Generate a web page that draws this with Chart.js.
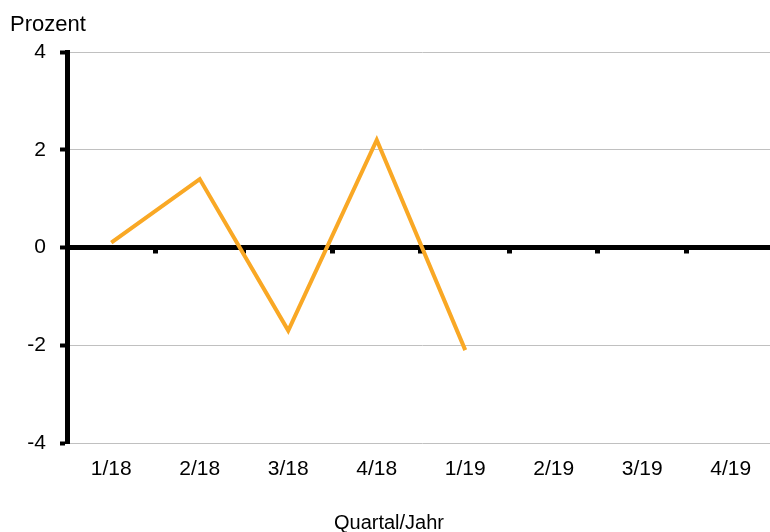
<!DOCTYPE html>
<html>
<head>
<meta charset="utf-8">
<script src="https://cdn.jsdelivr.net/npm/chart.js@4/dist/chart.umd.min.js"></script>
<style>
  html, body { margin: 0; padding: 0; overflow: hidden; background: #fff; }
  canvas { display: block; }
</style>
</head>
<body>
<canvas id="chart" width="780" height="532"></canvas>
<script>
//
// daten
//
var quartale = ['1/18', '2/18', '3/18', '4/18', '1/19', '2/19', '3/19', '4/19'];
var werte = [0.1, 1.4, -1.7, 2.2, -2.1, null, null, null];
var y_ticks = [-4, -2, 0, 2, 4];

var font_name = '"Liberation Sans", Arial, sans-serif';

//
// nulllinie mit kleinen strichen zwischen den quartalen
//
var zeroTicks = {
  id : 'zeroTicks',
  beforeDatasetsDraw : function(chart) {
    var ctx = chart.ctx;
    var x = chart.scales.x;
    var y0 = chart.scales.y.getPixelForValue(0);
    ctx.save();
    ctx.fillStyle = '#000';
    for (var i = 0; i < quartale.length - 1; i++) {
      var xm = (x.getPixelForValue(i) + x.getPixelForValue(i + 1)) / 2;
      ctx.fillRect(Math.round(xm) - 3, y0, 5, 6);
    }
    ctx.restore();
  }
};

//
// achsentitel
//
var axisTitles = {
  id : 'axisTitles',
  afterDraw : function(chart) {
    var ctx = chart.ctx;
    ctx.save();
    ctx.fillStyle = '#000';
    ctx.textBaseline = 'alphabetic';
    ctx.textAlign = 'left';
    ctx.font = '22px ' + font_name;
    ctx.fillText('Prozent', 10, 31);
    ctx.textAlign = 'center';
    ctx.font = '20px ' + font_name;
    ctx.fillText('Quartal/Jahr', 389, 529);
    ctx.restore();
  }
};

var config = {
  type : 'line',
  data : {
    labels : quartale,
    datasets : [ {
      label : 'Prozent',
      data : werte,
      borderColor : '#f9a825',
      borderWidth : 4,
      pointRadius : 0,
      tension : 0,
      fill : false
    } ]
  },
  options : {
    responsive : false,
    animation : false,
    layout : {padding : {top : 52, right : 5, bottom : 0, left : 0}},
    plugins : {
      legend : {display : false},
      tooltip : {enabled : false},
      title : {display : false}
    },
    scales : {
      x : {
        type : 'category',
        offset : true,
        grid : {display : false, drawTicks : false},
        border : {display : false},
        ticks : {
          color : '#000',
          padding : 14,
          maxRotation : 0,
          font : {family : font_name, size : 21}
        },
        afterFit : function(scale) { scale.height = 89; }
      },
      y : {
        min : -4,
        max : 4,
        afterBuildTicks : function(scale) {
          scale.ticks = y_ticks.map(function(v) { return {value : v}; });
        },
        border : {display : true, color : '#000', width : 5},
        grid : {
          color : function(c) { return c.tick && c.tick.value === 0 ? '#000' : '#c0c0c0'; },
          lineWidth : function(c) { return c.tick && c.tick.value === 0 ? 5 : 1; },
          tickColor : '#000',
          tickWidth : 4,
          tickLength : 7
        },
        ticks : {
          color : '#000',
          padding : 14,
          font : {family : font_name, size : 21}
        },
        afterFit : function(scale) { scale.width = 67; }
      }
    }
  },
  plugins : [ zeroTicks, axisTitles ]
};

var chart = new Chart(document.getElementById('chart').getContext('2d'), config);
</script>
</body>
</html>
